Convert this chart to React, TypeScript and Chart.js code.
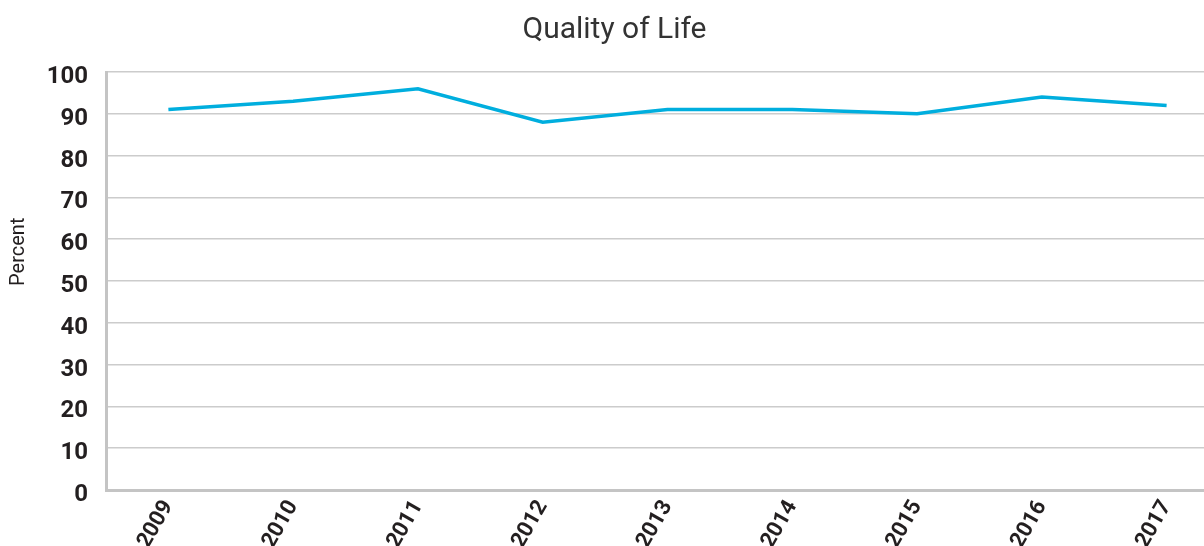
import React, { useEffect, useRef } from "react";
import { Chart, registerables } from "chart.js";

Chart.register(...registerables);

const years = ["2009", "2010", "2011", "2012", "2013", "2014", "2015", "2016", "2017"];
const qualityOfLife = [91, 93, 96, 88, 91, 91, 90, 94, 92];
const yTickValues = [0, 10, 20, 30, 40, 50, 60, 70, 80, 90, 100];

const chartTitle = "Quality of Life";
const yAxisTitle = "Percent";

const yTitlePlugin = {
  id: "yTitlePlugin",
  afterDraw(chart: any) {
    const ctx = chart.ctx;
    const area = chart.chartArea;
    ctx.save();
    ctx.translate(19, area.top + (area.bottom - area.top) * 0.43);
    ctx.rotate(-Math.PI / 2);
    ctx.fillStyle = "#231f20";
    ctx.font = "normal 20px Roboto";
    ctx.textAlign = "center";
    ctx.textBaseline = "middle";
    ctx.fillText(yAxisTitle, 0, 0);
    ctx.restore();
  },
};

export default function App() {
  const ref = useRef<HTMLCanvasElement | null>(null);

  useEffect(() => {
    if (!ref.current) return;
    const chart = new Chart(ref.current, {
      type: "line",
      data: {
        labels: years,
        datasets: [
          {
            label: chartTitle,
            data: qualityOfLife,
            borderColor: "#00aede",
            backgroundColor: "#00aede",
            borderWidth: 3.5,
            pointRadius: 0,
            tension: 0,
            fill: false,
          },
        ],
      },
      plugins: [yTitlePlugin],
      options: {
        responsive: false,
        animation: false,
        layout: { padding: { left: 0, right: 3, top: 0, bottom: 0 } },
        plugins: {
          legend: { display: false },
          tooltip: { enabled: false },
          title: {
            display: true,
            text: chartTitle,
            color: "#333333",
            font: { family: "Roboto", size: 30, weight: "normal", lineHeight: 1.2 },
            padding: { top: 12, bottom: 24 },
          },
        },
        scales: {
          x: {
            offset: true,
            grid: { display: false, drawTicks: false },
            border: { display: true, color: "#c4c4c4", width: 3 },
            ticks: {
              color: "#231f20",
              font: { family: "Roboto", size: 22, weight: "bold" },
              minRotation: 60,
              maxRotation: 60,
              padding: 6,
            },
            afterFit: (scale: any) => {
              scale.height = 56;
            },
          },
          y: {
            min: 0,
            max: 100,
            afterBuildTicks: (scale: any) => {
              scale.ticks = yTickValues.map((v) => ({ value: v }));
            },
            grid: { color: "#cccccc", lineWidth: 1.5, drawTicks: false },
            border: { display: true, color: "#c4c4c4", width: 3 },
            ticks: {
              color: "#231f20",
              font: { family: "Roboto", size: 24, weight: "bold" },
              padding: 18,
              labelOffset: 5,
            },
            title: { display: false, text: yAxisTitle },
            afterFit: (scale: any) => {
              scale.width = 106;
            },
          },
        },
      },
    });
    return () => chart.destroy();
  }, []);

  return (
    <div
      style={{
        position: "fixed",
        left: 0,
        top: 0,
        width: 1204,
        height: 546,
        overflow: "hidden",
        background: "#ffffff",
      }}
    >
      <canvas ref={ref} width={1232} height={546} style={{ display: "block" }} />
    </div>
  );
}
